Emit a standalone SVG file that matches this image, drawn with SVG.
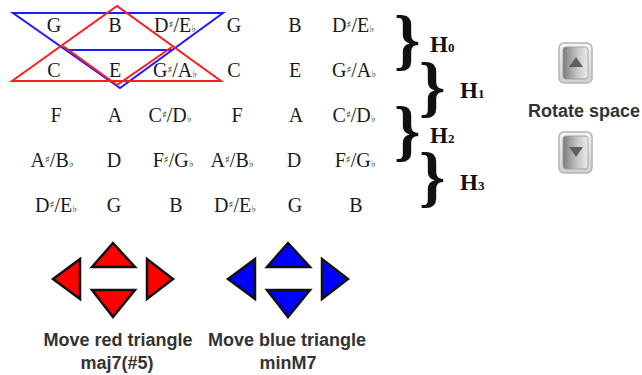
<svg xmlns="http://www.w3.org/2000/svg" width="642" height="375" viewBox="0 0 642 375">
  <style>
    .note { font-family: "Liberation Serif", "DejaVu Serif", serif; font-size: 20px; fill: #1a1a1a; text-anchor: middle; }
    .acc { font-family: "DejaVu Serif", "Liberation Serif", serif; font-size: 10px; }
    .brace { font-family: "Liberation Serif", serif; font-weight: bold; font-size: 67px; fill: #111; }
    .hlabel { font-family: "Liberation Serif", serif; font-weight: bold; font-size: 23px; fill: #111; }
    .hsub { font-size: 13px; }
    .caption { font-family: "Liberation Sans", Arial, sans-serif; font-weight: bold; font-size: 18px; fill: #333; text-anchor: middle; }
    .red-line { fill: none; stroke: #ff1c1c; stroke-width: 2; }
    .blue-line { fill: none; stroke: #1c1cff; stroke-width: 2; }
    .red-btn { fill: #ff0000; stroke: #111; stroke-width: 2.5; }
    .blue-btn { fill: #0000ff; stroke: #111; stroke-width: 2.5; }
    .rot-outer { fill: url(#rotOuter); stroke: #b4b4b4; stroke-width: 1.5; }
    .rot-inner { fill: url(#rotInner); stroke: #9a9a9a; stroke-width: 0.8; }
    .rot-arrow { fill: #5e5e5e; }
  </style>
  <defs>
    <linearGradient id="rotOuter" x1="0" y1="0" x2="0" y2="1">
      <stop offset="0" stop-color="#f4f4f4"/>
      <stop offset="1" stop-color="#d0d0d0"/>
    </linearGradient>
    <linearGradient id="rotInner" x1="0" y1="0" x2="1" y2="0">
      <stop offset="0" stop-color="#7c7c7c"/>
      <stop offset="0.55" stop-color="#c4c4c4"/>
      <stop offset="1" stop-color="#ececec"/>
    </linearGradient>
  </defs>
  <rect width="642" height="375" fill="#ffffff"/>

  <!-- chord triangles over the pitch grid -->
  <g id="connectors">
    <g id="blue-triangle">
      <polygon class="blue-line" points="13,13 223,13 120,88"/>
      <line class="blue-line" x1="66" y1="50" x2="171" y2="50"/>
    </g>
    <g id="red-triangle">
      <polygon class="red-line" points="12,81 117,6 221,81"/>
      <polyline class="red-line" points="63,46 117,85 172,47"/>
    </g>
  </g>

  <!-- pitch grid -->
  <g id="grid">
    <g id="row-0">
      <text class="note" x="54" y="32">G</text>
      <text class="note" x="115" y="32">B</text>
      <text class="note" x="175" y="32">D<tspan class="acc" dy="-4">♯</tspan><tspan dy="4">/E</tspan><tspan class="acc">♭</tspan></text>
      <text class="note" x="234" y="32">G</text>
      <text class="note" x="295" y="32">B</text>
      <text class="note" x="353" y="32">D<tspan class="acc" dy="-4">♯</tspan><tspan dy="4">/E</tspan><tspan class="acc">♭</tspan></text>
    </g>
    <g id="row-1">
      <text class="note" x="54" y="77">C</text>
      <text class="note" x="115" y="77">E</text>
      <text class="note" x="175" y="77">G<tspan class="acc" dy="-4">♯</tspan><tspan dy="4">/A</tspan><tspan class="acc">♭</tspan></text>
      <text class="note" x="234" y="77">C</text>
      <text class="note" x="295" y="77">E</text>
      <text class="note" x="354" y="77">G<tspan class="acc" dy="-4">♯</tspan><tspan dy="4">/A</tspan><tspan class="acc">♭</tspan></text>
    </g>
    <g id="row-2">
      <text class="note" x="56" y="122">F</text>
      <text class="note" x="115" y="122">A</text>
      <text class="note" x="170" y="122">C<tspan class="acc" dy="-4">♯</tspan><tspan dy="4">/D</tspan><tspan class="acc">♭</tspan></text>
      <text class="note" x="237" y="122">F</text>
      <text class="note" x="296" y="122">A</text>
      <text class="note" x="354" y="122">C<tspan class="acc" dy="-4">♯</tspan><tspan dy="4">/D</tspan><tspan class="acc">♭</tspan></text>
    </g>
    <g id="row-3">
      <text class="note" x="52" y="167">A<tspan class="acc" dy="-4">♯</tspan><tspan dy="4">/B</tspan><tspan class="acc">♭</tspan></text>
      <text class="note" x="114" y="167">D</text>
      <text class="note" x="173" y="167">F<tspan class="acc" dy="-4">♯</tspan><tspan dy="4">/G</tspan><tspan class="acc">♭</tspan></text>
      <text class="note" x="232" y="167">A<tspan class="acc" dy="-4">♯</tspan><tspan dy="4">/B</tspan><tspan class="acc">♭</tspan></text>
      <text class="note" x="294" y="167">D</text>
      <text class="note" x="355" y="167">F<tspan class="acc" dy="-4">♯</tspan><tspan dy="4">/G</tspan><tspan class="acc">♭</tspan></text>
    </g>
    <g id="row-4">
      <text class="note" x="56" y="212">D<tspan class="acc" dy="-4">♯</tspan><tspan dy="4">/E</tspan><tspan class="acc">♭</tspan></text>
      <text class="note" x="114" y="212">G</text>
      <text class="note" x="176" y="212">B</text>
      <text class="note" x="235" y="212">D<tspan class="acc" dy="-4">♯</tspan><tspan dy="4">/E</tspan><tspan class="acc">♭</tspan></text>
      <text class="note" x="295" y="212">G</text>
      <text class="note" x="356" y="212">B</text>
    </g>
  </g>

  <!-- row-pair brackets -->
  <g id="h0">
    <text class="brace" x="394" y="62">}</text>
    <text class="hlabel" x="430" y="52">H<tspan class="hsub">0</tspan></text>
  </g>
  <g id="h1">
    <text class="brace" x="419" y="109">}</text>
    <text class="hlabel" x="460" y="98">H<tspan class="hsub">1</tspan></text>
  </g>
  <g id="h2">
    <text class="brace" x="394" y="153">}</text>
    <text class="hlabel" x="430" y="143">H<tspan class="hsub">2</tspan></text>
  </g>
  <g id="h3">
    <text class="brace" x="419" y="199">}</text>
    <text class="hlabel" x="460" y="190">H<tspan class="hsub">3</tspan></text>
  </g>

  <!-- rotation controls -->
  <g id="rotate-up">
    <rect class="rot-outer" x="559" y="43" width="33" height="40" rx="5"/>
    <rect class="rot-inner" x="563" y="47" width="25" height="32" rx="3"/>
    <polygon class="rot-arrow" points="576,57 569,67 583,67"/>
  </g>
  <text id="rotate-label" class="caption" x="584" y="117" font-size="18.3">Rotate space</text>
  <g id="rotate-down">
    <rect class="rot-outer" x="559" y="132" width="33" height="41" rx="5"/>
    <rect class="rot-inner" x="563" y="136" width="25" height="33" rx="3"/>
    <polygon class="rot-arrow" points="569,147 583,147 576,157"/>
  </g>

  <!-- red triangle controls -->
  <g id="red-controls">
    <polygon class="red-btn" points="53,279 80,259 80,299"/>
    <polygon class="red-btn" points="113,243 92,267 135,267"/>
    <polygon class="red-btn" points="92,290 135,290 113,317"/>
    <polygon class="red-btn" points="147,259 147,299 173,279"/>
    <text class="caption" x="118" y="346">Move red triangle</text>
    <text class="caption" x="117" y="369">maj7(#5)</text>
  </g>

  <!-- blue triangle controls -->
  <g id="blue-controls">
    <polygon class="blue-btn" points="228,279 255,259 255,299"/>
    <polygon class="blue-btn" points="288,243 267,267 310,267"/>
    <polygon class="blue-btn" points="267,290 310,290 288,317"/>
    <polygon class="blue-btn" points="322,259 322,299 348,279"/>
    <text class="caption" x="287" y="346">Move blue triangle</text>
    <text class="caption" x="288" y="369">minM7</text>
  </g>
</svg>
